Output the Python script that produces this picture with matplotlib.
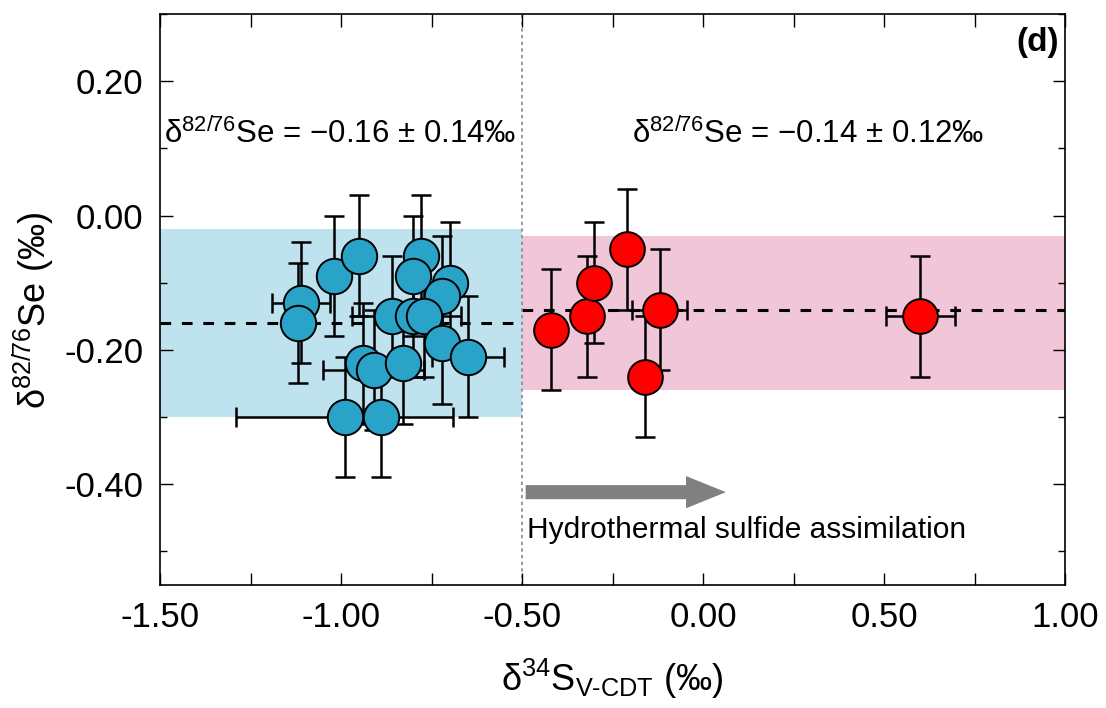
import matplotlib
matplotlib.use("Agg")
import matplotlib.pyplot as plt
from matplotlib.ticker import MultipleLocator, FuncFormatter

plt.rcParams["font.family"] = ["Liberation Sans", "DejaVu Sans"]
plt.rcParams["mathtext.fontset"] = "custom"
plt.rcParams["mathtext.rm"] = "Liberation Sans"
plt.rcParams["mathtext.it"] = "Liberation Sans:italic"
plt.rcParams["mathtext.bf"] = "Liberation Sans:bold"

# ---------------------------------------------------------------------------
# Data
# ---------------------------------------------------------------------------
blue_x = [-1.11, -1.12, -1.02, -0.95, -0.78, -0.80, -0.70, -0.72, -0.86,
          -0.80, -0.77, -0.72, -0.65, -0.94, -0.91, -0.83, -0.99, -0.89]
blue_y = [-0.13, -0.16, -0.09, -0.06, -0.06, -0.09, -0.10, -0.12, -0.15,
          -0.15, -0.15, -0.19, -0.21, -0.22, -0.23, -0.22, -0.30, -0.30]
blue_xerr = [0.08, 0, 0, 0, 0, 0, 0, 0, 0.11,
             0, 0.10, 0, 0.10, 0, 0.14, 0, 0.30, 0]
blue_yerr = [0.09] * len(blue_x)

red_x = [-0.42, -0.32, -0.30, -0.21, -0.12, -0.16, 0.60]
red_y = [-0.17, -0.15, -0.10, -0.05, -0.14, -0.24, -0.15]
red_xerr = [0, 0, 0, 0, 0.075, 0, 0.095]
red_yerr = [0.09] * len(red_x)

# group means and shaded ranges (lower, upper)
blue_mean = -0.16
red_mean = -0.14
blue_band = [-0.30, -0.02]
red_band = [-0.26, -0.03]
split_x = -0.5

BLUE = "#2aa3c9"
BLUE_BAND = "#bfe3ee"
PINK_BAND = "#f0c6d8"

# ---------------------------------------------------------------------------
# Figure
# ---------------------------------------------------------------------------
fig = plt.figure(figsize=(11.06, 7.08), dpi=100)
ax = fig.add_axes([0.1447, 0.174, 0.8183, 0.806])

xmin, xmax = -1.5, 1.0
ax.set_xlim(xmin, xmax)
ax.set_ylim(-0.55, 0.30)

ax.fill_between([xmin, split_x], *blue_band, color=BLUE_BAND, lw=0, zorder=0)
ax.fill_between([split_x, xmax], *red_band, color=PINK_BAND, lw=0, zorder=0)

# mean lines
ax.plot([xmin, split_x], [blue_mean, blue_mean], ls=(0, (3.5, 3.5)), color="black", lw=2.2, zorder=1)
ax.plot([split_x, xmax], [red_mean, red_mean], ls=(0, (3.5, 3.5)), color="black", lw=2.2, zorder=1)

# divider
ax.axvline(split_x, color="#888888", ls=(0, (2, 2)), lw=1.2, zorder=1)

# error bars under markers
ax.errorbar(blue_x, blue_y, xerr=blue_xerr, yerr=blue_yerr, fmt="none",
            ecolor="black", elinewidth=1.8, capsize=7, capthick=1.8, zorder=2)
ax.errorbar(red_x, red_y, xerr=red_xerr, yerr=red_yerr, fmt="none",
            ecolor="black", elinewidth=1.8, capsize=7, capthick=1.8, zorder=2)

ax.plot(blue_x, blue_y, "o", ms=25.5, mfc=BLUE, mec="black", mew=1.4, ls="none", zorder=3)
ax.plot(red_x, red_y, "o", ms=25, mfc="#ff0000", mec="black", mew=1.4, ls="none", zorder=3)

# arrow + annotation
ax.arrow(-0.49, -0.412, 0.553, 0, width=0.021, head_width=0.048, head_length=0.11,
         length_includes_head=True, color="#808080", lw=0, zorder=2)
ax.text(-0.487, -0.468, "Hydrothermal sulfide assimilation", fontsize=21.5,
        ha="left", va="center")

ax.text(-1.488, 0.122, r"δ$^{82/76}$Se = −0.16 ± 0.14‰", fontsize=22.5,
        ha="left", va="center")
ax.text(-0.195, 0.122, r"δ$^{82/76}$Se = −0.14 ± 0.12‰", fontsize=22.5,
        ha="left", va="center")
ax.text(0.982, 0.258, "(d)", fontsize=24, fontweight="bold", ha="right", va="center")

# axes styling
fmt = FuncFormatter(lambda v, _: f"{0.0 if abs(v) < 1e-9 else v:.2f}")
ax.xaxis.set_major_locator(MultipleLocator(0.5))
ax.xaxis.set_minor_locator(MultipleLocator(0.25))
ax.yaxis.set_major_locator(MultipleLocator(0.2))
ax.yaxis.set_minor_locator(MultipleLocator(0.1))
ax.xaxis.set_major_formatter(fmt)
ax.yaxis.set_major_formatter(fmt)
ax.tick_params(which="both", direction="in", top=True, right=True, width=1.0)
ax.tick_params(which="major", length=9, labelsize=25, pad=12)
ax.tick_params(axis="x", which="minor", length=9)
ax.tick_params(axis="y", which="minor", length=5)
for s in ax.spines.values():
    s.set_linewidth(1.2)

ax.set_xlabel(r"δ$^{34}$S$_{\text{V-CDT}}$ (‰)", fontsize=26, labelpad=16)
ax.set_ylabel(r"δ$^{82/76}$Se (‰)", fontsize=26)
ax.yaxis.set_label_coords(-0.115, 0.48)

fig.savefig("out.png", dpi=100)
